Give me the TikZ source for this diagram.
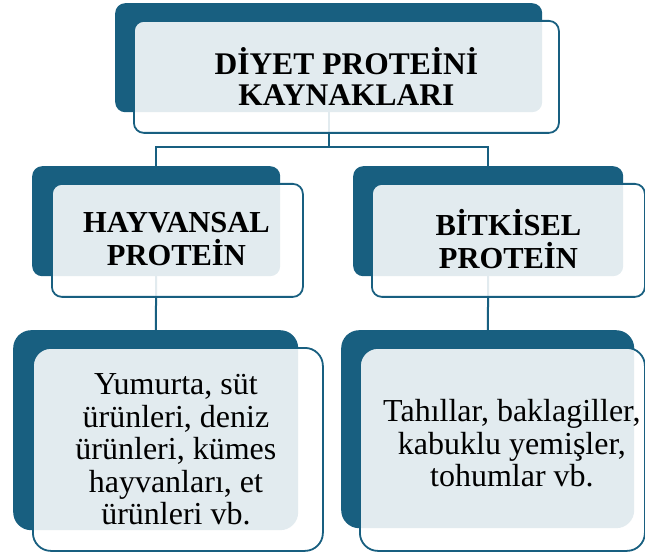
\documentclass[tikz,border=0pt]{standalone}
\usepackage{fontspec}
\setmainfont{Liberation Serif}
\usetikzlibrary{positioning,backgrounds}

\definecolor{dietTeal}{RGB}{24,95,128}

\tikzset{
  back/.style={fill=dietTeal, rounded corners=10pt, anchor=north west, inner sep=0pt},
  front/.style={draw=dietTeal, line width=1.8pt, fill=white, fill opacity=.88,
                rounded corners=10pt, anchor=north west, inner sep=0pt},
  head/.style={align=center, font=\fontsize{31.5}{31}\selectfont\bfseries},
  sub/.style={align=center, font=\fontsize{30.5}{33}\selectfont\bfseries},
  list/.style={align=center, font=\fontsize{32}{32.6}\selectfont},
  link/.style={draw=dietTeal, line width=2pt},
}

\begin{document}
\begin{tikzpicture}[x=1pt, y=-1pt]
  \useasboundingbox (0,0) rectangle (645,553);
  %\draw [help lines, dotted] (0,0) grid[step=50] (645,553);

  \node(TopBack)    [back]  at (115,3)  [minimum width=427, minimum height=109] {};
  \node(TopFront)   [front] at (133,20) [minimum width=425, minimum height=112] {};
  \node(TopText)    [head]  at (TopFront.center) {DİYET PROTEİNİ\\KAYNAKLARI};

  \node(AnimalBack)  [back]  at (32,166) [minimum width=248, minimum height=110] {};
  \node(AnimalFront) [front] at (51,183) [minimum width=251, minimum height=113] {};
  \node(AnimalText)  [sub]   at ([xshift=-1pt, yshift=1pt] AnimalFront.center) {HAYVANSAL\\PROTEİN};

  \node(PlantBack)  [back]  at (353,166) [minimum width=270, minimum height=110] {};
  \node(PlantFront) [front] at (371,183) [minimum width=273, minimum height=113] {};
  \node(PlantText)  [sub]   at ([yshift=1pt] PlantFront.center) {BİTKİSEL\\PROTEİN};

  \node(AnimalListBack)  [back, rounded corners=18pt]  at (13,330) [minimum width=285, minimum height=200] {};
  \node(AnimalListFront) [front, rounded corners=18pt] at (32,347) [minimum width=290, minimum height=203] {};
  \node(AnimalListText)  [list] at ([xshift=-2pt] AnimalListFront.center)
    {Yumurta, süt\\ürünleri, deniz\\ürünleri, kümes\\hayvanları, et\\ürünleri vb.};

  \node(PlantListBack)  [back, rounded corners=18pt]  at (341,330) [minimum width=293, minimum height=198] {};
  \node(PlantListFront) [front, rounded corners=18pt] at (359,347) [minimum width=285, minimum height=203] {};
  \node(PlantListText)  [list] at ([xshift=9.5pt, yshift=6pt] PlantListFront.center)
    {Tahıllar, baklagiller,\\kabuklu yemişler,\\tohumlar vb.};

  \begin{scope}[on background layer]
    \coordinate(fork) at (TopBack.center |- 0,147);
    \draw[link] (TopBack.center) -- (fork) -| (AnimalBack.center);
    \draw[link] (fork) -| (PlantBack.center);
    \draw[link] (AnimalBack.center) -- (AnimalListBack.center);
    \draw[link] (PlantBack.center) -- (PlantListBack.center);
  \end{scope}
\end{tikzpicture}
\end{document}
